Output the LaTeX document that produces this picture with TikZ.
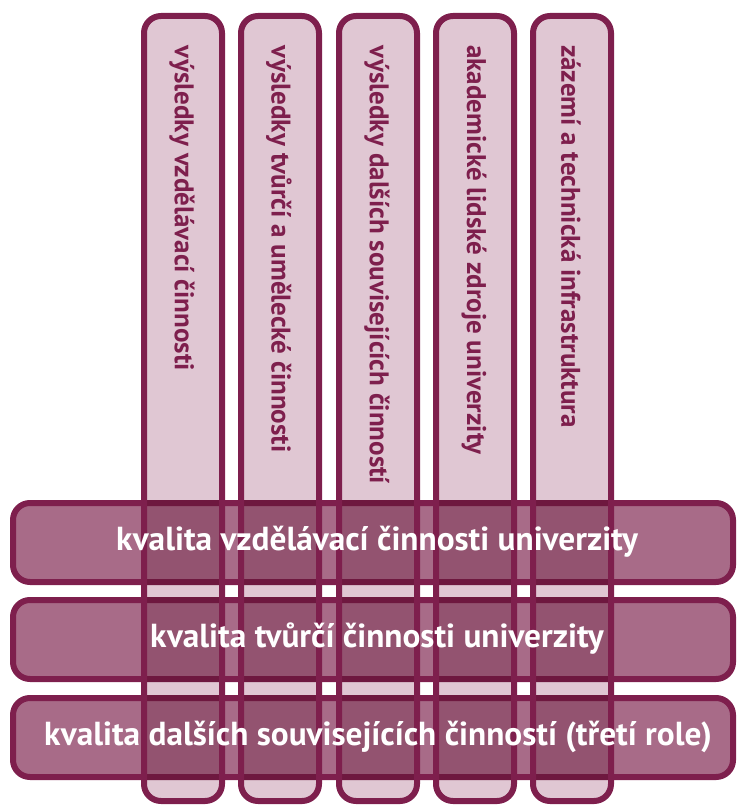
\documentclass[tikz,border=0pt]{standalone}
\usepackage{fontspec}
\setmainfont{PT Sans}
\definecolor{maroon}{HTML}{7E1F4D}
\definecolor{pinkfill}{HTML}{E0C7D3}
\definecolor{barfill}{HTML}{A86B88}
\begin{document}
\begin{tikzpicture}[x=1pt,y=-1pt,
  barbox/.style={draw=maroon,line width=6pt,fill=barfill,rounded corners=17pt},
  pillarfill/.style={fill=pinkfill,rounded corners=17pt},
  pillarline/.style={draw=maroon,line width=6pt,rounded corners=17pt},
  pillartext/.style={rotate=-90,anchor=west,inner sep=0pt,text=maroon,font=\bfseries\fontsize{27}{27}\selectfont},
  bartext/.style={text=white,inner sep=0pt,font=\bfseries\fontsize{33.3}{33.3}\selectfont}]
\useasboundingbox (0,0) rectangle (737,805);
% bars
\foreach \y [count=\i] in {503,600,698} {
  \path[barbox] (13,\y) rectangle (733,\y+79);
}
% pillars
\begin{scope}[blend mode=multiply]
\foreach \x in {144,241,339,436,533} {
  \path[pillarfill] (\x,16) rectangle (\x+78,801);
}
\end{scope}
\foreach \x in {144,241,339,436,533} {
  \path[pillarline] (\x,16) rectangle (\x+78,801);
}
\node[pillartext] (p1) at (182,45) {výsledky vzdělávací činnosti};
\node[pillartext] (p2) at (279,45) {výsledky tvůrčí a umělecké činnosti};
\node[pillartext] (p3) at (377,45) {výsledky dalších souvisejících činností};
\node[pillartext] (p4) at (474,45) {akademické lidské zdroje univerzity};
\node[pillartext] (p5) at (571,45) {zázemí a technická infrastruktura};
\node[bartext] (b1) at (377,542) {kvalita vzdělávací činnosti univerzity};
\node[bartext] (b2) at (377,639) {kvalita tvůrčí činnosti univerzity};
\node[bartext] (b3) at (378,737) {kvalita dalších souvisejících činností (třetí role)};
\end{tikzpicture}
\end{document}
